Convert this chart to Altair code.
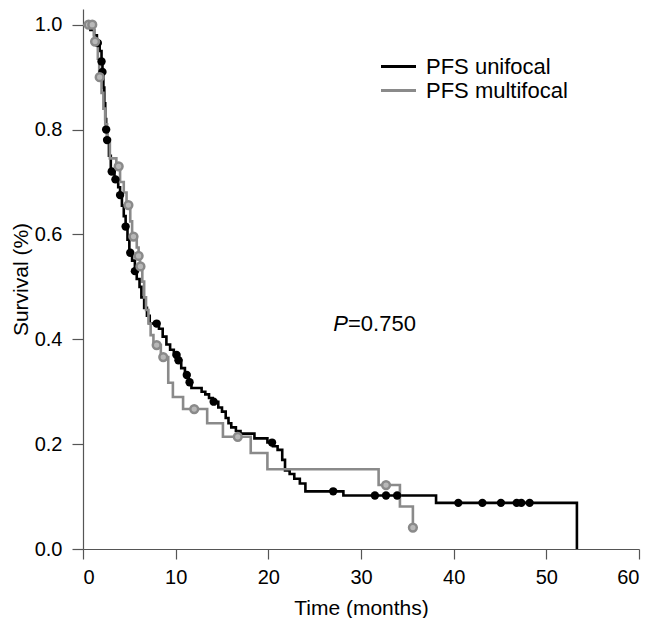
import altair as alt
import pandas as pd

# ---- data ----
uni_t = [0, 0.8, 1.2, 1.5, 1.8, 2.0, 2.1, 2.2, 2.3, 2.4, 2.5, 2.6, 2.8, 3.0, 3.4, 3.8,
         4.0, 4.2, 4.4, 4.6, 4.8, 5.0, 5.3, 5.6, 5.8, 6.1, 6.3, 6.6, 6.9, 7.2, 8.2, 8.6,
         9.0, 9.4, 9.8, 10.2, 10.6, 11.0, 11.4, 11.7, 12.8, 13.2, 13.6, 14.0, 14.6, 15.0,
         15.4, 15.7, 16.0, 16.5, 17.0, 18.5, 19.9, 20.5, 21.0, 21.5, 21.8, 22.3, 22.8,
         23.4, 24.0, 28.1, 38.1, 53.3]
uni_s = [1.0, 0.99, 0.98, 0.965, 0.95, 0.93, 0.91, 0.88, 0.85, 0.82, 0.80, 0.78, 0.75,
         0.72, 0.705, 0.69, 0.675, 0.655, 0.635, 0.615, 0.59, 0.565, 0.55, 0.53, 0.515,
         0.50, 0.48, 0.46, 0.445, 0.43, 0.42, 0.405, 0.39, 0.38, 0.37, 0.36, 0.345, 0.332,
         0.318, 0.307, 0.30, 0.295, 0.288, 0.281, 0.27, 0.262, 0.25, 0.24, 0.232, 0.225,
         0.22, 0.211, 0.203, 0.196, 0.189, 0.17, 0.15, 0.143, 0.134, 0.125, 0.11, 0.102,
         0.088, 0.0]
uni_cens = [1.6, 2.0, 2.1, 2.5, 2.6, 3.1, 3.5, 4.0, 4.6, 5.1, 5.6, 7.95, 10.1, 10.3,
            11.2, 11.5, 14.1, 20.4, 27.0, 31.5, 32.7, 33.9, 40.5, 43.1, 45.1, 46.8,
            47.3, 48.2]

multi_t = [0, 1.2, 1.6, 1.75, 2.0, 2.2, 2.4, 2.6, 2.9, 3.6, 4.0, 4.4, 4.7, 5.1, 5.3,
           5.8, 6.0, 6.15, 6.4, 6.6, 6.8, 7.06, 7.3, 7.6, 8.4, 9.2, 9.7, 10.8, 13.4,
           15.1, 18.1, 19.9, 31.9, 34.2, 35.6]
multi_s = [1.0, 0.968, 0.935, 0.90, 0.87, 0.84, 0.81, 0.78, 0.745, 0.73, 0.70, 0.68,
           0.656, 0.625, 0.596, 0.575, 0.559, 0.539, 0.51, 0.48, 0.456, 0.43, 0.408,
           0.389, 0.366, 0.317, 0.29, 0.267, 0.24, 0.214, 0.183, 0.152, 0.122, 0.081,
           0.041]
multi_cens = [0.6, 1.0, 1.3, 1.8, 3.85, 4.9, 5.45, 6.0, 6.2, 7.95, 8.66, 12.0, 16.7,
              32.7, 35.6]

series_names = ["PFS unifocal", "PFS multifocal"]
series_colors = ["#000000", "#8a8a8a"]
x_ticks = [0, 10, 20, 30, 40, 50, 60]
y_ticks = [0.0, 0.2, 0.4, 0.6, 0.8, 1.0]
p_label = "P"
p_value = "=0.750"
p_pos = (28.6, 0.429)


def step_at(ts, ss, t):
    val = ss[0]
    for ti, si in zip(ts, ss):
        if ti <= t:
            val = si
    return val


uni_df = pd.DataFrame({"t": uni_t, "s": uni_s, "series": series_names[0]})
multi_df = pd.DataFrame({"t": multi_t, "s": multi_s, "series": series_names[1]})
uni_c = pd.DataFrame({"t": uni_cens, "s": [step_at(uni_t, uni_s, t) for t in uni_cens]})
multi_c = pd.DataFrame({"t": multi_cens, "s": [step_at(multi_t, multi_s, t) for t in multi_cens]})
ann_df = pd.DataFrame({"t": [p_pos[0]], "s": [p_pos[1]]})

FONT = "Liberation Sans"

xs = alt.Scale(domain=[0, 60], nice=False)
ys = alt.Scale(domain=[0, 1.03], nice=False)
cs = alt.Scale(domain=series_names, range=series_colors)

X = alt.X("t:Q", scale=xs, title="Time (months)",
          axis=alt.Axis(values=x_ticks, format="d", tickSize=10, labelPadding=8,
                        titlePadding=10))
Y = alt.Y("s:Q", scale=ys, title="Survival (%)",
          axis=alt.Axis(values=y_ticks, format=".1f", tickSize=11, labelPadding=10,
                        titlePadding=3))

legend = alt.Legend(title=None, orient="none", legendX=304, legendY=46,
                    symbolType="M-1.75,0H1.75", symbolStrokeWidth=3, symbolSize=400,
                    labelFontSize=22, labelFont=FONT, labelColor="#000",
                    rowPadding=1, labelOffset=16, padding=0)

line_uni = alt.Chart(uni_df).mark_line(interpolate="step-after", strokeWidth=2.6).encode(
    x=X, y=Y, color=alt.Color("series:N", scale=cs, legend=legend))
line_multi = alt.Chart(multi_df).mark_line(interpolate="step-after", strokeWidth=2.6).encode(
    x=X, y=Y, color=alt.Color("series:N", scale=cs, legend=legend))

dots_uni = alt.Chart(uni_c).mark_circle(size=70, color="#000000", opacity=1).encode(x=X, y=Y)
dots_multi = alt.Chart(multi_c).mark_point(
    size=60, filled=False, stroke="#8a8a8a", strokeWidth=2.5, fill="#b8b8b8",
    fillOpacity=1, opacity=1).encode(x=X, y=Y)

p_text = alt.Chart(ann_df).mark_text(text=p_label, align="right", baseline="middle",
                                      fontSize=22, font=FONT, fontStyle="italic",
                                      color="#000").encode(x=X, y=Y)
v_text = alt.Chart(ann_df).mark_text(text=p_value, align="left", baseline="middle",
                                      fontSize=22, font=FONT, color="#000").encode(x=X, y=Y)

chart = alt.layer(line_uni, line_multi, dots_uni, dots_multi, p_text, v_text).properties(
    width=556, height=540,
    autosize=alt.AutoSizeParams(type="none"),
    padding={"left": 75, "top": 1, "right": 10, "bottom": 69},
).configure_view(stroke=None).configure_axis(
    grid=False, domainColor="#555555", tickColor="#555555", domainWidth=1.2, tickWidth=1.2,
    labelFont=FONT, labelFontSize=20, labelColor="#000000",
    titleFont=FONT, titleFontSize=21, titleFontWeight="normal", titleColor="#000000",
)

chart.save("out.html", embed_options={"renderer": "svg", "actions": False})
